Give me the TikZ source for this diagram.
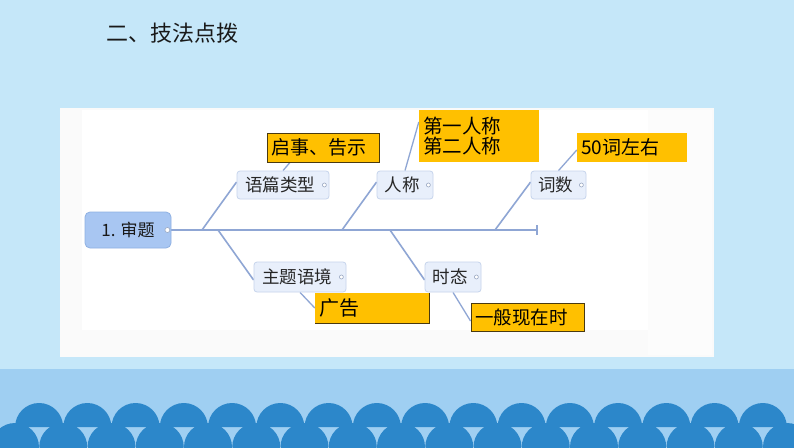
\documentclass[tikz,border=0pt]{standalone}
\usepackage{fontspec}
\newfontfamily\cjk{Noto Sans CJK SC}
\usetikzlibrary{backgrounds}
\definecolor{bglight}{HTML}{C5E7F9}
\definecolor{bandblue}{HTML}{9FCFF2}
\definecolor{waveblue}{HTML}{2C87CA}
\definecolor{rootfill}{HTML}{A8C6F2}
\definecolor{rootdraw}{HTML}{8EB0E2}
\definecolor{subfill}{HTML}{E8EFFB}
\definecolor{subdraw}{HTML}{C6D4EC}
\definecolor{linecol}{HTML}{8FA6D4}
\definecolor{orange}{HTML}{FFC000}
\definecolor{darkedge}{HTML}{4A3A10}
\definecolor{handle}{HTML}{9AA8C2}
\tikzset{
  rootbox/.style={draw=rootdraw, fill=rootfill, rounded corners=5pt, line width=0.8pt,
    minimum width=86pt, minimum height=36pt, inner sep=0pt, font=\cjk\fontsize{17}{20}\selectfont, text=black!90},
  subbox/.style={draw=subdraw, fill=subfill, rounded corners=3pt, line width=0.8pt,
    minimum height=28pt, inner sep=0pt, font=\cjk\fontsize{17.5}{20}\selectfont, text=black!85},
  notebox/.style={fill=orange, minimum height=29pt, inner xsep=4pt, inner ysep=0pt, align=left,
    font=\cjk\fontsize{19}{21}\selectfont, text=black},
  edged/.style={draw=darkedge, line width=0.9pt},
  branch/.style={draw=linecol, line width=1.6pt},
  spine/.style={draw=linecol, line width=2.2pt},
  knob/.style={circle, draw=handle, fill=white, line width=0.6pt, minimum size=5pt, inner sep=0pt},
}
\begin{document}
\begin{tikzpicture}[x=1pt,y=-1pt]
\useasboundingbox (0,0) rectangle (794,447);
\begin{scope}[on background layer]
\clip (0,0) rectangle (794,447);
% background
\fill[bglight] (0,0) rectangle (794,447);
\fill[bandblue] (0,369) rectangle (794,447);
\foreach \i in {0,...,15} {
  \fill[waveblue] ({39.1+48.25*\i-24},427) arc[start angle=180, end angle=0, radius=24pt] -- cycle;
}
\foreach \i in {0,...,16} {
  \fill[waveblue] ({15+48.25*\i},447) circle[radius=24pt];
}
% panel
\fill[white!96!gray] (60,108) rectangle (714,357);
\fill[white] (82,110) rectangle (648,330);
\fill[white!98!gray] (648,110) rectangle (712,355);
\end{scope}
% title
\node[anchor=west, font=\cjk\fontsize{22}{24}\selectfont, text=black!90, inner sep=0pt] (title) at (106,33) {二、技法点拨};
% nodes
\node[rootbox] (root) at (128,230) {1. 审题};
\node[subbox, minimum width=92pt] (yp) at (283,185) {语篇类型\hspace*{6pt}};
\node[subbox, minimum width=56pt] (rc) at (405,185) {人称\hspace*{6pt}};
\node[subbox, minimum width=55pt] (cs) at (558.5,185) {词数\hspace*{6pt}};
\node[subbox, minimum width=92pt, minimum height=30pt] (zt) at (300,277) {主题语境\hspace*{6pt}};
\node[subbox, minimum width=56pt, minimum height=30pt] (st) at (453,277) {时态\hspace*{6pt}};
\node[notebox, edged, text width=104pt] (qs) at (323,147.5) {启事、告示};
\node[notebox, text width=112pt, minimum height=52pt, font=\cjk\fontsize{19.5}{20}\selectfont] (rcl) at (479,136) {第一人称\\第二人称};
\node[notebox, text width=102pt] (cl) at (632,147.5) {50词左右};
\node[notebox, text width=106pt, minimum height=30pt, font=\cjk\fontsize{20}{22}\selectfont] (gg) at (372,308) {广告};
\draw[darkedge, line width=1pt] (gg.north east) -- (gg.south east) -- (gg.south west);
\node[notebox, edged, text width=105pt, minimum height=28pt, font=\cjk\fontsize{18.5}{21}\selectfont] (ys) at (527.5,317) {一般现在时};
% handles
\node[knob] (k0) at ([xshift=-4pt]root.east) {};
\node[knob, minimum size=4pt] (k1) at ([xshift=-5pt]yp.east) {};
\node[knob, minimum size=4pt] (k2) at ([xshift=-5pt]rc.east) {};
\node[knob, minimum size=4pt] (k3) at ([xshift=-5pt]cs.east) {};
\node[knob, minimum size=4pt] (k4) at ([xshift=-5pt]zt.east) {};
\node[knob, minimum size=4pt] (k5) at ([xshift=-5pt]st.east) {};
% connectors
\coordinate (send) at (537,230);
\coordinate (s1) at (202,230);
\coordinate (s2) at (218,230);
\coordinate (s3) at (342,230);
\coordinate (s4) at (390,230);
\coordinate (s5) at (495,230);
\begin{scope}[on background layer]
\draw[spine] (root.east) -- (send);
\draw[linecol, line width=1.4pt] ([yshift=-5pt]send) -- ([yshift=5pt]send);
\draw[branch] (s1) -- ([yshift=3pt]yp.west);
\draw[branch] (s2) -- ([yshift=-3pt]zt.west);
\draw[branch] (s3) -- ([yshift=3pt]rc.west);
\draw[branch] (s4) -- ([yshift=-3pt]st.west);
\draw[branch] (s5) -- ([yshift=3pt]cs.west);
\draw[branch, line width=1.3pt] (yp.north) -- ([xshift=-33pt]qs.south);
\draw[branch, line width=1.3pt] (rc.north) -- ([yshift=14pt]rcl.west);
\draw[branch, line width=1.3pt] (cs.north) -- ([yshift=-2.5pt]cl.west);
\draw[branch, line width=1.3pt] (zt.south) -- (gg.west);
\draw[branch, line width=1.3pt] (st.south) -- ([yshift=-4pt]ys.west);
\end{scope}
\end{tikzpicture}
\end{document}
